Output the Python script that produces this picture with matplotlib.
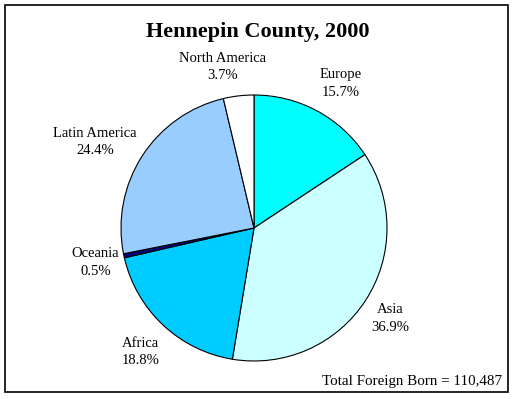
import matplotlib.pyplot as plt
from matplotlib.patches import Rectangle

plt.rcParams['font.family'] = ['Liberation Serif', 'DejaVu Serif']

# data, clockwise from 12 o'clock
regions = ["Europe", "Asia", "Africa", "Oceania", "Latin America", "North America"]
shares = [15.7, 36.9, 18.8, 0.5, 24.4, 3.7]
colors = ["#00FFFF", "#CCFFFF", "#00CCFF", "#000080", "#99CCFF", "#FFFFFF"]
total_born = 110487

# small nudges of the labels (px, x right / y down) to match Excel's placement
label_nudge = [(8, 2), (-3, 0), (0, 3), (4, 0), (-19, 4), (-12, 4)]

W, H = 515, 399
fig = plt.figure(figsize=(W / 100, H / 100), dpi=100)

# frame round the whole chart
fig.patches.append(Rectangle((5 / W, (H - 392) / H), 503 / W, 387 / H,
                             transform=fig.transFigure, fill=False,
                             edgecolor='black', linewidth=1.2))

# pie centre (254, 228) px, radius 133 px
cx, cy, r = 254, H - 228, 133
ax = fig.add_axes([(cx - r) / W, (cy - r) / H, 2 * r / W, 2 * r / H])

labels = [f"{n}\n{v:.1f}%" for n, v in zip(regions, shares)]
wedges, texts = ax.pie(shares, colors=colors, startangle=90, counterclock=False,
                       labels=labels, labeldistance=1.25,
                       wedgeprops=dict(edgecolor='black', linewidth=0.8),
                       textprops=dict(fontsize=10.5))
for t, (dx, dy) in zip(texts, label_nudge):
    x, y = t.get_position()
    t.set_position((x + dx / r, y - dy / r))
    t.set_ha('center')
    t.set_va('center')
    t.set_linespacing(1.45)
ax.set_xlim(-1, 1)
ax.set_ylim(-1, 1)
ax.set_aspect('equal')

fig.text(258 / W, 1 - 32 / H, "Hennepin County, 2000", ha='center', va='center',
         fontsize=16, fontweight='bold')
fig.text(502 / W, 1 - 381 / H, f"Total Foreign Born = {total_born:,}",
         ha='right', va='center', fontsize=10.8)

fig.savefig("out.png", dpi=100)
